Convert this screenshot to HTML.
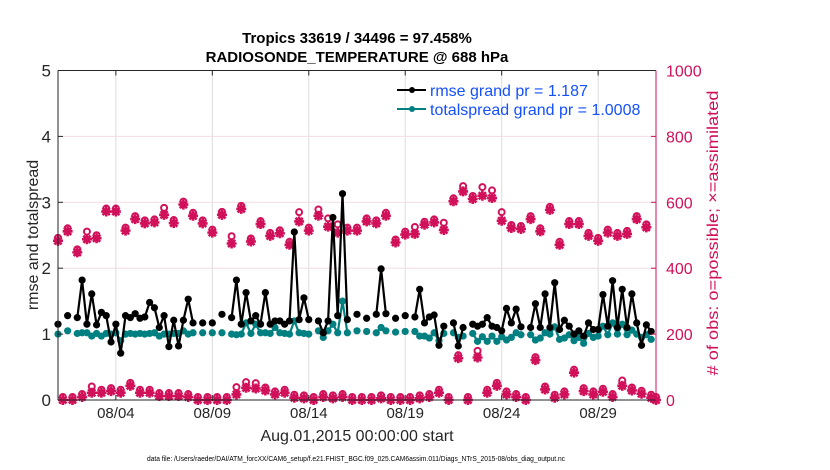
<!DOCTYPE html>
<html><head><meta charset="utf-8"><style>
html,body{margin:0;padding:0;background:#fff;}
svg{display:block;font-family:"Liberation Sans",Arial,sans-serif;}
</style></head><body>
<svg id="chart" width="830" height="470" viewBox="0 0 830 470">
<g id="grid"></g>
<g id="obs"></g>
<g id="series"></g>
<g id="axes"></g>
<text x="357" y="43" text-anchor="middle" font-size="15" font-weight="bold">Tropics 33619 / 34496 = 97.458%</text>
<text x="357" y="62" text-anchor="middle" font-size="15" font-weight="bold">RADIOSONDE_TEMPERATURE @ 688 hPa</text>
<g>
<g>
<line x1="397" y1="90" x2="426" y2="90" stroke="#000" stroke-width="2"/>
<circle cx="412" cy="90" r="3" fill="#000"/>
<text x="430" y="96" font-size="16" fill="#1450ff">rmse grand pr = 1.187</text>
</g>
<g>
<line x1="397" y1="109" x2="426" y2="109" stroke="#008080" stroke-width="2"/>
<circle cx="412" cy="109" r="3" fill="#008080"/>
<text x="430" y="115" font-size="16" fill="#1450ff">totalspread grand pr = 1.0008</text>
</g>
</g>
<text transform="translate(38,235) rotate(-90)" text-anchor="middle" font-size="16" fill="#262626">rmse and totalspread</text>
<text transform="translate(718,233) rotate(-90)" text-anchor="middle" font-size="16" fill="#d1105a" textLength="285" lengthAdjust="spacingAndGlyphs"># of obs: o=possible; ×=assimilated</text>
<text x="357" y="441" text-anchor="middle" font-size="16" fill="#262626">Aug.01,2015 00:00:00 start</text>
<text x="147" y="461" font-size="7" fill="#000" textLength="418" lengthAdjust="spacingAndGlyphs">data file: /Users/raeder/DAI/ATM_forcXX/CAM6_setup/f.e21.FHIST_BGC.f09_025.CAM6assim.011/Diags_NTrS_2015-08/obs_diag_output.nc</text>
</svg>
<script>
// time in days since Aug 01 00Z
const seriesTimes=[0,0.5,1,1.25,1.5,1.75,2,2.25,2.5,2.75,3,3.25,3.5,3.75,4,4.25,4.5,4.75,5,5.25,5.5,5.75,6,6.25,6.5,6.75,7,7.5,8,8.5,9,9.25,9.5,9.75,10,10.25,10.5,10.75,11,11.25,11.5,11.75,12,12.25,12.5,12.75,13,13.5,13.75,14,14.25,14.5,14.75,15,15.5,
16,16.5,16.75,17,17.5,18,18.5,18.75,19,19.25,19.5,19.75,20,20.5,20.75,21,21.5,21.75,22,22.25,22.5,22.75,23,23.25,23.5,23.75,24,24.5,24.75,25,25.25,25.5,25.75,26,26.25,26.5,26.75,27,27.25,27.5,27.75,28,28.25,28.5,28.75,29,29.25,29.5,29.75,30,30.25,30.5,30.75];
const rmseValues=[1.15,1.28,1.25,1.82,1.15,1.61,1.14,1.33,1.28,0.88,1.15,0.71,1.28,1.25,1.31,1.24,1.26,1.48,1.40,1.10,1.28,0.81,1.21,0.82,1.21,1.53,1.17,1.17,1.17,1.30,1.25,1.82,1.15,1.63,1.20,1.28,1.15,1.63,1.15,1.20,1.20,1.15,1.20,2.55,1.22,1.55,1.22,1.20,1.02,1.20,2.77,1.28,3.13,1.22,1.30,
1.24,1.30,1.99,1.31,1.24,1.28,1.26,1.68,1.17,1.26,1.29,0.83,1.12,1.17,0.82,1.10,1.15,1.12,1.15,1.25,1.12,1.10,1.05,1.39,1.17,1.38,1.11,1.10,1.46,1.10,1.61,1.10,1.78,1.07,1.21,1.12,1.00,1.05,0.97,1.17,1.07,1.07,1.60,1.12,1.81,1.10,1.68,1.10,1.61,1.17,0.83,1.14,1.04];
const spreadValues=[1.00,1.05,1.01,1.02,1.02,0.97,1.01,0.97,1.01,1.00,1.02,0.90,1.00,1.01,1.00,1.01,1.00,1.01,1.02,0.97,1.00,1.00,1.01,1.01,1.05,1.00,1.02,1.02,1.02,1.02,1.00,0.99,1.00,1.17,1.01,1.15,1.02,1.02,1.01,1.10,1.02,1.01,1.00,1.20,1.02,1.01,1.00,1.05,0.95,1.05,1.15,1.02,1.50,1.02,1.05,
1.04,1.02,1.10,1.05,1.03,1.04,1.04,0.97,0.97,0.94,1.02,0.90,1.01,1.02,0.95,0.97,1.01,0.89,0.96,0.89,0.97,0.89,0.96,0.91,0.95,1.02,0.99,0.99,0.91,0.94,1.02,1.00,1.11,0.92,0.94,0.99,0.90,0.95,0.86,1.01,0.95,0.97,1.12,0.99,1.17,1.00,1.15,0.99,1.06,1.00,0.95,0.99,0.92];
const obsTimes=[0,0.5,1,1.5,2,2.5,3,3.5,4,4.5,5,5.5,6,6.5,7,7.5,8,8.5,9,9.5,10,10.5,11,11.5,12,12.5,13,13.5,14,14.5,15,15.5,16,16.5,17,17.5,18,18.5,19,19.5,20,20.5,21,21.5,22,22.5,23,23.5,24,24.5,25,25.5,26,26.5,27,27.5,28,28.5,29,29.5,30,30.5,
0.25,0.75,1.25,1.75,2.25,2.75,3.25,3.75,4.25,4.75,5.25,5.75,6.25,6.75,7.25,7.75,8.25,8.75,9.25,9.75,10.25,10.75,11.25,11.75,12.25,12.75,13.25,13.75,14.25,14.75,15.25,15.75,16.25,16.75,17.25,17.75,18.25,18.75,19.25,19.75,20.25,20.75,21.25,21.75,22.25,22.75,23.25,23.75,24.25,24.75,25.25,25.75,26.25,26.75,27.25,27.75,28.25,28.75,29.25,29.75,30.25,30.75,31];
const obsAssimilated=[483,512,448,488,491,572,572,514,549,536,539,562,537,593,559,536,508,562,475,580,481,534,498,506,471,542,514,559,526,508,514,514,542,536,559,478,502,504,532,539,516,603,633,610,620,613,544,522,519,549,512,577,471,534,534,498,483,508,498,504,549,524,
0,0,9,22,22,27,22,43,22,22,12,12,12,9,0,0,0,0,17,37,35,29,17,22,7,5,0,9,5,9,0,0,0,5,0,0,0,5,9,22,0,127,0,129,22,43,17,9,0,121,32,7,17,83,27,17,25,9,43,29,19,7,0];
const obsPossible=[483,512,448,502,491,572,572,514,549,536,539,574,537,593,559,536,508,562,488,580,481,534,498,506,471,561,514,569,542,524,514,514,542,536,559,478,502,516,532,539,529,603,640,610,637,627,561,522,519,549,512,577,471,534,534,498,483,508,498,504,549,524,
0,0,9,32,22,27,22,43,22,22,12,12,12,9,0,0,0,0,30,45,42,29,17,22,7,5,0,9,5,9,0,0,0,5,0,0,0,5,9,22,0,127,0,140,22,43,17,9,0,121,32,7,17,83,27,17,25,9,50,29,19,7,0];
const leftTicks=[0,1,2,3,4,5];
const rightTicks=[0,200,400,600,800,1000];
const xTickDays=[3,8,13,18,23,28];
const xTickLabels=["08/04","08/09","08/14","08/19","08/24","08/29"];

const NS="http://www.w3.org/2000/svg";
const X0=58,X1=656,Y0=400,Y1=70.5,T0=0,T1=31;
const xs=t=>X0+(t-T0)/(T1-T0)*(X1-X0);
const yl=v=>Y0-v/5*(Y0-Y1);
const yr=v=>Y0-v/1000*(Y0-Y1);
const PINK="#d1105a",TEAL="#008080";
function mk(tag,attrs,parent){const e=document.createElementNS(NS,tag);for(const k in attrs)e.setAttribute(k,attrs[k]);parent.appendChild(e);return e;}
const grid=document.getElementById('grid'),axes=document.getElementById('axes'),obs=document.getElementById('obs'),ser=document.getElementById('series');

xTickDays.forEach((d,i)=>{
  const g=mk('line',{x1:xs(d),x2:xs(d),y1:Y1,y2:Y0,stroke:'#dcdcdc','stroke-width':1},grid);
  
  
  mk('line',{x1:xs(d),x2:xs(d),y1:Y0,y2:Y0-5,stroke:'#262626'},axes);
  mk('line',{x1:xs(d),x2:xs(d),y1:Y1,y2:Y1+5,stroke:'#262626'},axes);
  const t=mk('text',{x:xs(d),y:418,'text-anchor':'middle','font-size':15,fill:'#262626'},axes);
  t.textContent=xTickLabels[i];
  
  
});
rightTicks.forEach(v=>{
  if(v>0&&v<1000){const g=mk('line',{x1:X0,x2:X1,y1:yr(v),y2:yr(v),stroke:'#f3dde5','stroke-width':1},grid);
  
  }
  mk('line',{x1:X1,x2:X1-5,y1:yr(v),y2:yr(v),stroke:PINK},axes);
  const t=mk('text',{x:X1+10,y:yr(v)+6,'font-size':16,fill:PINK},axes);
  t.textContent=v;
  
  
});
leftTicks.forEach(v=>{
  mk('line',{x1:X0,x2:X0+5,y1:yl(v),y2:yl(v),stroke:'#262626'},axes);
  const t=mk('text',{x:X0-7,y:yl(v)+6,'text-anchor':'end','font-size':17,fill:'#262626'},axes);
  t.textContent=v;
  
  
});
mk('line',{x1:X0,x2:X1,y1:Y1,y2:Y1,stroke:'#262626'},axes);
mk('line',{x1:X0,x2:X1,y1:Y0,y2:Y0,stroke:'#262626'},axes);
mk('line',{x1:X0,x2:X0,y1:Y1,y2:Y0,stroke:'#262626'},axes);
mk('line',{x1:X1,x2:X1,y1:Y1,y2:Y0,stroke:PINK},axes);

// obs markers
obsTimes.forEach((t,i)=>{
  const x=xs(t);
  const c=mk('circle',{cx:x,cy:yr(obsPossible[i])-3,r:3,fill:'none',stroke:PINK,'stroke-width':2},obs);
  
  
  const y=yr(obsAssimilated[i]);
  const s=mk('path',{d:`M${x-5},${y}H${x+5}M${x},${y-5}V${y+5}M${x-3.6},${y-3.6}L${x+3.6},${y+3.6}M${x-3.6},${y+3.6}L${x+3.6},${y-3.6}`,stroke:PINK,'stroke-width':2.6},obs);
  
  
  mk('circle',{cx:x,cy:y,r:3,fill:PINK},obs);
});

function drawSeries(vals,color,name){
  let d='';
  seriesTimes.forEach((t,i)=>{
    const cont=i>0&&(t-seriesTimes[i-1])<=0.26;
    d+=(cont?'L':'M')+xs(t).toFixed(1)+','+yl(vals[i]).toFixed(1);
  });
  const p=mk('path',{d:d,fill:'none',stroke:color,'stroke-width':2.2,'stroke-linejoin':'round'},ser);
  
  
  seriesTimes.forEach((t,i)=>{
    const c=mk('circle',{cx:xs(t),cy:yl(vals[i]),r:3.6,fill:color},ser);
    
    
  });
}
drawSeries(spreadValues,TEAL,'totalspread');
drawSeries(rmseValues,'#000','rmse');
</script>
</body></html>
